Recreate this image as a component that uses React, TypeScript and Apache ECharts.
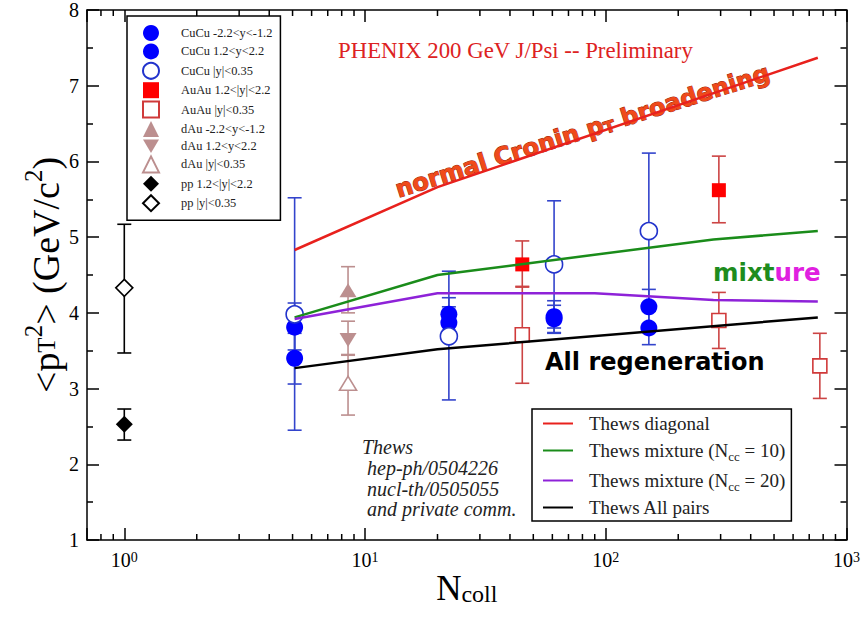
import React, { useEffect, useRef } from "react";
import * as echarts from "echarts";

const SERIF = "'Liberation Serif', 'Times New Roman', serif";
const HAND = "'DejaVu Sans', 'Noto Sans', sans-serif";

// Axis ranges
const X_MIN = 0.7;
const X_MAX = 1000;
const Y_MIN = 1;
const Y_MAX = 8;

// Minor ticks of the logarithmic N_coll axis
const xMinorTicks = [0.8, 0.9, 2, 3, 4, 5, 6, 7, 8, 9, 20, 30, 40, 50, 60, 70, 80, 90, 200, 300, 400, 500, 600, 700, 800, 900];

// CuCu -2.2<y<-1.2
const cucuBackN = [5.1, 22.3, 61, 151];
const cucuBackPt2 = [3.81, 3.98, 3.95, 4.08];
const cucuBackLo = [3.51, 3.77, 3.74, 3.85];
const cucuBackHi = [4.13, 4.2, 4.16, 4.31];

// CuCu 1.2<y<2.2
const cucuFwdN = [5.1, 22.3, 61, 151];
const cucuFwdPt2 = [3.4, 3.87, 3.92, 3.8];
const cucuFwdLo = [3.06, 3.66, 3.73, 3.58];
const cucuFwdHi = [3.73, 4.08, 4.1, 4.02];

// CuCu |y|<0.35
const cucuMidN = [5.1, 22.3, 61, 151];
const cucuMidPt2 = [3.98, 3.69, 4.64, 5.08];
const cucuMidLo = [2.45, 2.85, 3.8, 4.05];
const cucuMidHi = [5.52, 4.55, 5.48, 6.11];

// AuAu 1.2<|y|<2.2
const auauFwdN = [45, 295];
const auauFwdPt2 = [4.64, 5.62];
const auauFwdLo = [4.34, 5.19];
const auauFwdHi = [4.95, 6.07];

// AuAu |y|<0.35
const auauMidN = [45, 295, 775];
const auauMidPt2 = [3.71, 3.9, 3.3];
const auauMidLo = [3.07, 3.53, 2.87];
const auauMidHi = [4.35, 4.27, 3.73];

// dAu
const dauN = [8.5];
const dauBackPt2 = [4.3];
const dauBackLo = [4.0];
const dauBackHi = [4.61];
const dauFwdPt2 = [3.64];
const dauFwdLo = [3.44];
const dauFwdHi = [3.89];
const dauMidPt2 = [3.07];
const dauMidLo = [2.65];
const dauMidHi = [3.45];

// pp
const ppN = [1];
const ppFwdPt2 = [2.53];
const ppFwdLo = [2.32];
const ppFwdHi = [2.73];
const ppMidPt2 = [4.33];
const ppMidLo = [3.47];
const ppMidHi = [5.17];

// Thews model curves
const thewsDiagN = [5.1, 20, 760];
const thewsDiag = [4.83, 5.66, 7.37];
const thewsMix10N = [5.1, 20, 280, 760];
const thewsMix10 = [3.94, 4.5, 4.97, 5.08];
const thewsMix20N = [5.1, 20, 90, 280, 760];
const thewsMix20 = [3.92, 4.26, 4.26, 4.17, 4.15];
const thewsAllN = [5.1, 20, 760];
const thewsAll = [3.27, 3.52, 3.94];

const markerNames = [
  "CuCu -2.2<y<-1.2",
  "CuCu 1.2<y<2.2",
  "CuCu |y|<0.35",
  "AuAu 1.2<|y|<2.2",
  "AuAu |y|<0.35",
  "dAu -2.2<y<-1.2",
  "dAu 1.2<y<2.2",
  "dAu |y|<0.35",
  "pp 1.2<|y|<2.2",
  "pp |y|<0.35",
];
const curveNames = [
  "Thews diagonal",
  "Thews mixture (Ncc = 10)",
  "Thews mixture (Ncc = 20)",
  "Thews All pairs",
];

const DOWN_TRIANGLE = "path://M0,0L20,0L10,17Z";

const pts = (xs: number[], ys: number[]) => xs.map((x, i) => [x, ys[i]]);
const bars = (xs: number[], lo: number[], hi: number[]) => xs.map((x, i) => [x, lo[i], hi[i]]);

function errorBars(id: string, data: number[][], color: string) {
  return {
    type: "custom",
    id,
    z: 1,
    silent: true,
    data,
    encode: { x: 0, y: [1, 2] },
    renderItem: (_p: any, api: any) => {
      const x = api.value(0);
      const top = api.coord([x, api.value(2)]);
      const bot = api.coord([x, api.value(1)]);
      const w = 7;
      const style = { stroke: color, lineWidth: 1.6 };
      return {
        type: "group",
        children: [
          { type: "line", shape: { x1: top[0], y1: top[1], x2: bot[0], y2: bot[1] }, style },
          { type: "line", shape: { x1: top[0] - w, y1: top[1], x2: top[0] + w, y2: top[1] }, style },
          { type: "line", shape: { x1: bot[0] - w, y1: bot[1], x2: bot[0] + w, y2: bot[1] }, style },
        ],
      };
    },
  };
}

function markers(name: string, data: number[][], symbol: string, size: any, fill: string, border: string, rotate = 0) {
  return {
    type: "scatter",
    name,
    z: 2,
    data,
    symbol,
    symbolSize: size,
    symbolRotate: rotate,
    itemStyle: { color: fill, borderColor: border, borderWidth: fill === "#ffffff" ? 1.6 : 0, opacity: 1 },
    emphasis: { disabled: true },
  };
}

function curve(name: string, data: number[][], color: string) {
  return {
    type: "line",
    name,
    z: 3,
    data,
    symbol: "none",
    lineStyle: { color, width: 2.5 },
    itemStyle: { color },
    emphasis: { disabled: true },
  };
}

const CUCU_BAR = "#3344cc";
const AUAU_BAR = "#cc4444";
const DAU = "#bc8f8f";

function buildOption() {
  const frame = { show: true, onZero: false, lineStyle: { color: "#000", width: 1.5 } };
  const tick = { show: true, inside: true, length: 12, lineStyle: { color: "#000", width: 1.5 } };
  const xLabelRich = {
    b: { fontFamily: SERIF, fontSize: 20, color: "#000", verticalAlign: "bottom", lineHeight: 20 },
    s: { fontFamily: SERIF, fontSize: 14, color: "#000", verticalAlign: "top", lineHeight: 14, padding: [0, 0, 8, 0] },
  };
  const xLabelFormatter = (v: number) => {
    const e = Math.log10(v);
    const r = Math.round(e);
    if (Math.abs(e - r) > 1e-6) return "";
    return `{b|10}{s|${r}}`;
  };

  return {
    animation: false,
    backgroundColor: "#ffffff",
    grid: { left: 87, right: 16.5, top: 10, bottom: 83, containLabel: false, outerBoundsMode: "none" },
    xAxis: [
      {
        type: "log",
        logBase: 10,
        min: X_MIN,
        max: X_MAX,
        position: "bottom",
        axisLine: frame,
        axisTick: tick,
        splitLine: { show: false },
        minorTick: { show: false },
        axisLabel: { formatter: xLabelFormatter, rich: xLabelRich, margin: 10 },
        name: "{n|N}{s|coll}",
        nameLocation: "middle",
        nameGap: 31,
        nameMoveOverlap: false,
        nameTextStyle: {
          rich: {
            n: { fontFamily: SERIF, fontSize: 35, color: "#000", verticalAlign: "top", lineHeight: 35 },
            s: { fontFamily: SERIF, fontSize: 24, color: "#000", verticalAlign: "bottom", lineHeight: 24, padding: [24, 0, 0, 0] },
          },
        },
      },
      {
        type: "log",
        logBase: 10,
        min: X_MIN,
        max: X_MAX,
        position: "top",
        axisLine: frame,
        axisTick: tick,
        splitLine: { show: false },
        minorTick: { show: false },
        axisLabel: { show: false },
      },
    ],
    yAxis: [
      {
        type: "value",
        min: Y_MIN,
        max: Y_MAX,
        interval: 1,
        position: "left",
        axisLine: frame,
        axisTick: tick,
        minorTick: { show: true, splitNumber: 2, length: 6, lineStyle: { color: "#000", width: 1.5 } },
        splitLine: { show: false },
        minorSplitLine: { show: false },
        axisLabel: { fontFamily: SERIF, fontSize: 20, color: "#000", margin: 8 },
        name: "{a|<p}{b|T}{p|2}{a|> (GeV/c}{p|2}{a|)}",
        nameLocation: "middle",
        nameRotate: 90,
        nameGap: 28,
        nameMoveOverlap: false,
        nameTextStyle: {
          rich: {
            a: { fontFamily: SERIF, fontSize: 38, color: "#000", lineHeight: 38, verticalAlign: "top", padding: [6, 0, 0, 0] },
            b: { fontFamily: SERIF, fontSize: 25, color: "#000", verticalAlign: "bottom", lineHeight: 25, padding: [24, 0, 0, 0] },
            p: { fontFamily: SERIF, fontSize: 25, color: "#000", verticalAlign: "top", lineHeight: 25, padding: [0, 0, 24, 0] },
          },
        },
      },
      {
        type: "value",
        min: Y_MIN,
        max: Y_MAX,
        interval: 1,
        position: "right",
        axisLine: frame,
        axisTick: tick,
        minorTick: { show: true, splitNumber: 2, length: 6, lineStyle: { color: "#000", width: 1.5 } },
        splitLine: { show: false },
        minorSplitLine: { show: false },
        axisLabel: { show: false },
      },
    ],
    legend: [
      {
        id: "markers",
        orient: "vertical",
        left: 127,
        top: 16,
        padding: [9, 8, 8, 15],
        itemWidth: 16,
        itemHeight: 16,
        itemGap: 2.4,
        symbolRotate: 0,
        borderColor: "#000",
        borderWidth: 1.5,
        backgroundColor: "#ffffff",
        selectedMode: false,
        formatter: (name: string) => `{t|${name}}`,
        textStyle: {
          rich: { t: { fontFamily: SERIF, fontSize: 12.4, color: "#222", padding: [0, 0, 0, 17] } },
        },
        data: markerNames.map((name, i) => (i === 6 ? { name, icon: DOWN_TRIANGLE } : { name })),
      },
      {
        id: "curves",
        orient: "vertical",
        left: 532,
        top: 409,
        padding: [5, 6, 4, 10],
        itemWidth: 30,
        itemHeight: 14,
        itemGap: 5,
        borderColor: "#000",
        borderWidth: 1.5,
        backgroundColor: "#ffffff",
        selectedMode: false,
        itemStyle: { opacity: 0 },
        formatter: (name: string) => {
          const m = name.match(/^(.*\()Ncc( = \d+\))$/);
          if (!m) return `{t|${name}}`;
          return `{t|${m[1]}N}{s|cc}{u|${m[2]}}`;
        },
        textStyle: {
          rich: {
            t: { fontFamily: SERIF, fontSize: 19, color: "#222", padding: [0, 0, 0, 11], lineHeight: 25 },
            u: { fontFamily: SERIF, fontSize: 19, color: "#222", lineHeight: 25 },
            s: { fontFamily: SERIF, fontSize: 13, color: "#222", verticalAlign: "bottom", lineHeight: 13, padding: [12, 0, 0, 0] },
          },
        },
        data: curveNames,
      },
    ],
    graphic: [
      {
        type: "text",
        x: 338,
        y: 50,
        silent: true,
        style: {
          text: "PHENIX 200 GeV J/Psi -- Preliminary",
          font: `22.8px ${SERIF}`,
          fill: "#dd2222",
          verticalAlign: "middle",
        },
      },
      {
        type: "text",
        x: 396,
        y: 190,
        rotation: (17.5 * Math.PI) / 180,
        silent: true,
        style: {
          text: "{a|normal Cronin p}{s|T}{a| broadening}",
          align: "left",
          verticalAlign: "middle",
          rich: {
            a: { fontFamily: HAND, fontWeight: "bold", fontSize: 24, fill: "#f04a1a", stroke: "#9a1a08", lineWidth: 1, verticalAlign: "top", lineHeight: 24 },
            s: { fontFamily: HAND, fontWeight: "bold", fontSize: 16, fill: "#f04a1a", stroke: "#9a1a08", lineWidth: 1, verticalAlign: "bottom", lineHeight: 16, padding: [20, 0, 0, 0] },
          },
        },
      },
      {
        type: "text",
        x: 713,
        y: 272,
        silent: true,
        style: {
          text: "{g|mixt}{m|ure}",
          verticalAlign: "middle",
          rich: {
            g: { fontFamily: HAND, fontWeight: "bold", fontSize: 24.5, fill: "#1e8c1e" },
            m: { fontFamily: HAND, fontWeight: "bold", fontSize: 24.5, fill: "#e020e0" },
          },
        },
      },
      {
        type: "text",
        x: 545,
        y: 362,
        silent: true,
        style: {
          text: "All regeneration",
          font: `bold 24px ${HAND}`,
          fill: "#000",
          verticalAlign: "middle",
        },
      },
      {
        type: "text",
        x: 362,
        y: 437,
        silent: true,
        style: {
          text: "Thews\n hep-ph/0504226\n nucl-th/0505055\n and private comm.",
          font: `italic 20px ${SERIF}`,
          lineHeight: 20.7,
          fill: "#222",
          verticalAlign: "top",
        },
      },
    ],
    series: [
      // error bars
      errorBars("err-cucu-back", bars(cucuBackN, cucuBackLo, cucuBackHi), CUCU_BAR),
      errorBars("err-cucu-fwd", bars(cucuFwdN, cucuFwdLo, cucuFwdHi), CUCU_BAR),
      errorBars("err-cucu-mid", bars(cucuMidN, cucuMidLo, cucuMidHi), CUCU_BAR),
      errorBars("err-auau-fwd", bars(auauFwdN, auauFwdLo, auauFwdHi), AUAU_BAR),
      errorBars("err-auau-mid", bars(auauMidN, auauMidLo, auauMidHi), AUAU_BAR),
      errorBars("err-dau-back", bars(dauN, dauBackLo, dauBackHi), DAU),
      errorBars("err-dau-fwd", bars(dauN, dauFwdLo, dauFwdHi), DAU),
      errorBars("err-dau-mid", bars(dauN, dauMidLo, dauMidHi), DAU),
      errorBars("err-pp-fwd", bars(ppN, ppFwdLo, ppFwdHi), "#000"),
      errorBars("err-pp-mid", bars(ppN, ppMidLo, ppMidHi), "#000"),
      // data points
      markers(markerNames[0], pts(cucuBackN, cucuBackPt2), "circle", 17, "#0000ff", "#0000ff"),
      markers(markerNames[1], pts(cucuFwdN, cucuFwdPt2), "circle", 17, "#0000ff", "#0000ff"),
      markers(markerNames[2], pts(cucuMidN, cucuMidPt2), "circle", 17, "#ffffff", "#2233cc"),
      markers(markerNames[3], pts(auauFwdN, auauFwdPt2), "rect", 14, "#ff0000", "#ff0000"),
      markers(markerNames[4], pts(auauMidN, auauMidPt2), "rect", 14, "#ffffff", "#d03a3a"),
      markers(markerNames[5], pts(dauN, dauBackPt2), "triangle", [17, 14], DAU, DAU),
      markers(markerNames[6], pts(dauN, dauFwdPt2), "triangle", [17, 14], DAU, DAU, 180),
      markers(markerNames[7], pts(dauN, dauMidPt2), "triangle", [17, 14], "#ffffff", DAU),
      markers(markerNames[8], pts(ppN, ppFwdPt2), "diamond", 17, "#000000", "#000000"),
      markers(markerNames[9], pts(ppN, ppMidPt2), "diamond", 17, "#ffffff", "#000000"),
      // model curves
      curve(curveNames[0], pts(thewsDiagN, thewsDiag), "#e8211d"),
      curve(curveNames[1], pts(thewsMix10N, thewsMix10), "#1a8c1a"),
      curve(curveNames[2], pts(thewsMix20N, thewsMix20), "#8e22d8"),
      curve(curveNames[3], pts(thewsAllN, thewsAll), "#000000"),
      // minor ticks of the log axis, bottom and top
      {
        type: "custom",
        id: "x-minor-ticks",
        z: 1,
        silent: true,
        data: xMinorTicks.map((v) => [v, Y_MIN]),
        encode: { x: 0, y: 1 },
        renderItem: (_p: any, api: any) => {
          const v = api.value(0);
          const b = api.coord([v, Y_MIN]);
          const t = api.coord([v, Y_MAX]);
          const style = { stroke: "#000", lineWidth: 1.5 };
          return {
            type: "group",
            children: [
              { type: "line", shape: { x1: b[0], y1: b[1], x2: b[0], y2: b[1] - 6 }, style },
              { type: "line", shape: { x1: t[0], y1: t[1], x2: t[0], y2: t[1] + 6 }, style },
            ],
          };
        },
      },
    ],
  };
}

export default function App() {
  const ref = useRef<HTMLDivElement>(null);
  useEffect(() => {
    if (!ref.current) return;
    const chart = echarts.init(ref.current, undefined, { renderer: "svg" });
    chart.setOption(buildOption() as any);
    return () => chart.dispose();
  }, []);
  return <div ref={ref} style={{ width: 863, height: 623, position: "absolute", left: 0, top: 0 }} />;
}
